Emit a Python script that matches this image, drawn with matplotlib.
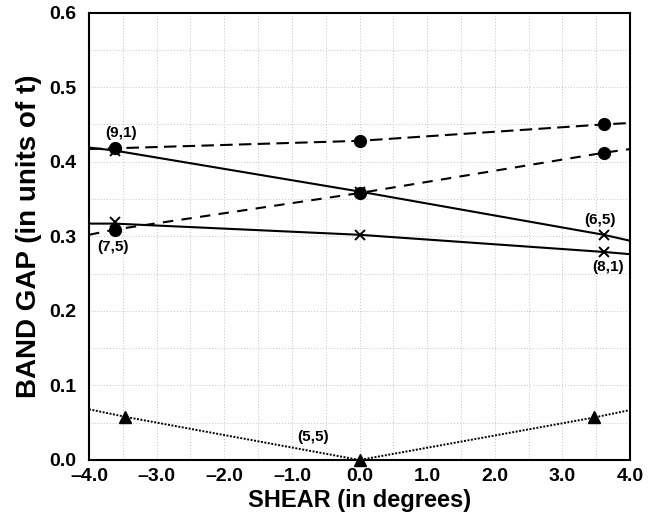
# band gap vs shear plot
import matplotlib.pyplot as plt
from matplotlib.ticker import MultipleLocator

plt.rcParams['font.family'] = ['Liberation Sans', 'DejaVu Sans']
plt.rcParams['font.weight'] = 'bold'

# marker points
shear_pts = [-3.62, 0.0, 3.61]
gap_91 = [0.418, 0.428, 0.450]
gap_75 = [0.309, 0.358, 0.412]
gap_65 = [0.415, 0.360, 0.302]
gap_81 = [0.319, 0.302, 0.279]
shear_pts_55 = [-3.47, 0.0, 3.47]
gap_55 = [0.058, 0.0, 0.057]

# lines run out to the frame edges
shear_line = [-4.0, -3.62, 0.0, 3.61, 4.0]
shear_line_55 = [-4.0, -3.47, 0.0, 3.47, 4.0]
line_91 = [0.417, 0.418, 0.428, 0.450, 0.452]
line_75 = [0.302, 0.309, 0.358, 0.412, 0.417]
line_65 = [0.419, 0.415, 0.360, 0.302, 0.294]
line_81 = [0.317, 0.317, 0.302, 0.279, 0.276]
line_55 = [0.068, 0.058, 0.0, 0.057, 0.067]

labels = ["(9,1)", "(7,5)", "(6,5)", "(8,1)", "(5,5)"]
label_x = [-3.53, -3.65, 3.55, 3.67, -0.69]
label_y = [0.439, 0.286, 0.322, 0.259, 0.031]

xticks = [-4.0, -3.0, -2.0, -1.0, 0.0, 1.0, 2.0, 3.0, 4.0]
yticks = [0.0, 0.1, 0.2, 0.3, 0.4, 0.5, 0.6]

fig = plt.figure(figsize=(6.64, 5.18), dpi=100)
ax = fig.add_axes([0.134, 0.112, 0.815, 0.8637])

ax.plot(shear_line, line_91, color='black', lw=1.5, dashes=(6, 3), zorder=3)
ax.plot(shear_line, line_75, color='black', lw=1.5, dashes=(5, 4), zorder=3)
ax.plot(shear_line, line_65, color='black', lw=1.5, zorder=3)
ax.plot(shear_line, line_81, color='black', lw=1.5, zorder=3)
ax.plot(shear_line_55, line_55, color='black', lw=1.4, dashes=(1, 0.8), zorder=3)

ax.plot(shear_pts, gap_91, 'o', color='black', ms=8.5, zorder=4)
ax.plot(shear_pts, gap_75, 'o', color='black', ms=8.5, zorder=4)
ax.plot(shear_pts, gap_65, 'x', color='black', ms=7.5, mew=1.4, zorder=4)
ax.plot(shear_pts, gap_81, 'x', color='black', ms=7.5, mew=1.4, zorder=4)
ax.plot(shear_pts_55, gap_55, '^', color='black', ms=9, zorder=4, clip_on=False)

for t, x, y in zip(labels, label_x, label_y):
    ax.text(x, y, t, fontsize=11, fontweight='bold', ha='center', va='center')

ax.set_xlim(-4, 4)
ax.set_ylim(0, 0.6)
ax.set_xticks(xticks)
ax.set_yticks(yticks)
ax.set_xticklabels([("%.1f" % v).replace("-", "\u2013") for v in xticks])
ax.set_yticklabels(["%.1f" % v for v in yticks])
ax.xaxis.set_minor_locator(MultipleLocator(0.5))
ax.yaxis.set_minor_locator(MultipleLocator(0.05))
ax.tick_params(which='both', length=0, labelsize=14)
ax.tick_params(axis='y', pad=9)
ax.tick_params(axis='x', pad=6)
ax.grid(which='both', color='#c4c4c4', ls=(0, (1, 2)), lw=0.7)

ax.set_xlabel("SHEAR (in degrees)", fontsize=17, fontweight='bold', labelpad=3)
ax.set_ylabel("BAND GAP (in units of t)", fontsize=20, fontweight='bold', labelpad=5)

for s in ax.spines.values():
    s.set_linewidth(1.5)

fig.savefig("out.png", dpi=100)
